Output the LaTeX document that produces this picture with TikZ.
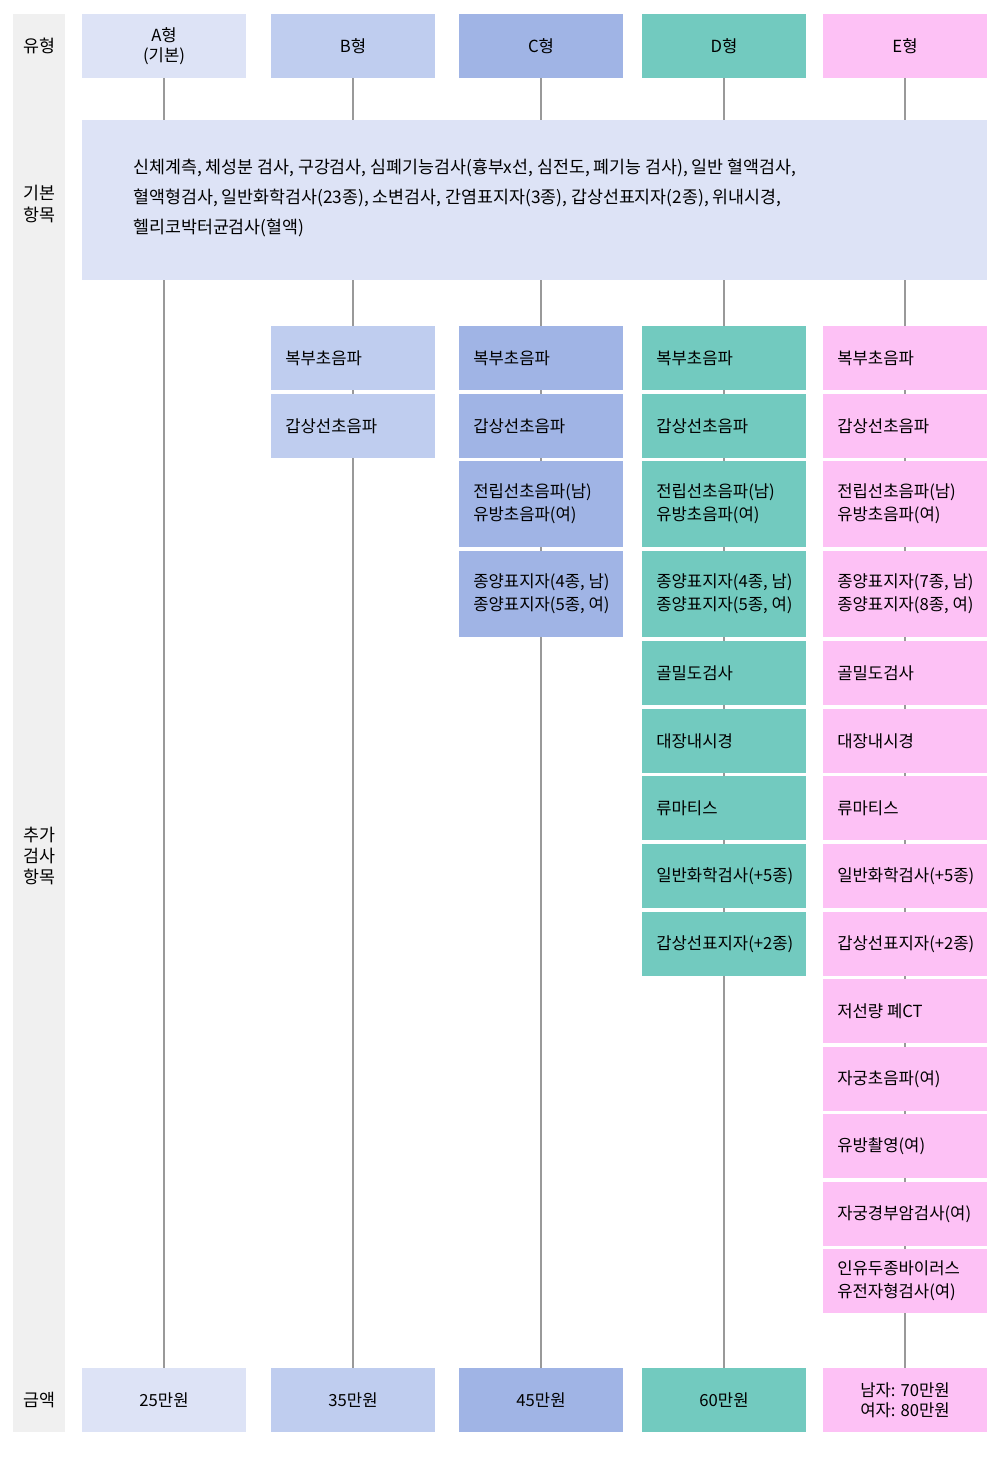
\documentclass[tikz,border=0pt]{standalone}
\usepackage{fontspec}
\setmainfont{Noto Sans CJK KR}
\definecolor{ca}{HTML}{DDE3F6}
\definecolor{cb}{HTML}{BFCDEF}
\definecolor{cc}{HTML}{A0B4E5}
\definecolor{cd}{HTML}{72CABF}
\definecolor{ce}{HTML}{FDC1F5}
\definecolor{band}{HTML}{F0F0F0}
\newcommand{\itm}[5]{\fill[#2] (#1,#3) rectangle (#1+164,#4);
  \node[item] at (#1+14,{(#3+#4)/2}) {#5};}
\begin{document}
\begin{tikzpicture}[x=0.75pt,y=-0.75pt,
  cell/.style={minimum width=123pt,inner sep=0pt,font=\fontsize{12.5}{15}\selectfont,align=center},
  item/.style={inner sep=0pt,font=\fontsize{12.5}{17}\selectfont,align=left,anchor=west},
  lab/.style={font=\fontsize{13}{16}\selectfont,align=center},
  conn/.style={draw=gray!80,line width=0.8pt}]
\useasboundingbox (0,0) rectangle (1000,1457);
\fill[band] (13,14) rectangle (65,1432);
\node[lab] (l1) at (39,46) {유형};
\node[lab] (l2) at (39,204) {기본\\항목};
\node[lab] (l3) at (39,856) {추가\\검사\\항목};
\node[lab] (l4) at (39,1400) {금액};
\foreach \n/\cx in {a/164,b/353,c/541,d/724,e/905}{
  \coordinate (t\n) at (\cx,78);
  \coordinate (p\n) at (\cx,1368);
  \draw[conn] (t\n) -- (p\n);
}
\foreach \n/\x/\c/\t in {a/82/ca/{A형\\(기본)},b/271/cb/B형,c/459/cc/C형,d/642/cd/D형,e/823/ce/E형}{
  \fill[\c] (\x,14) rectangle ++(164,64);
  \node[cell] (h\n) at (\x+82,46) {\t};
}
\fill[ca] (82,120) rectangle (987,280);
\node[item,font=\fontsize{13}{22.5}\selectfont] (basic) at (133,198) {신체계측, 체성분 검사, 구강검사, 심폐기능검사(흉부x선, 심전도, 폐기능 검사), 일반 혈액검사,\\혈액형검사, 일반화학검사(23종), 소변검사, 간염표지자(3종), 갑상선표지자(2종), 위내시경,\\헬리코박터균검사(혈액)};
\itm{271}{cb}{326}{390}{복부초음파}
\itm{271}{cb}{394}{458}{갑상선초음파}
\itm{459}{cc}{326}{390}{복부초음파}
\itm{459}{cc}{394}{458}{갑상선초음파}
\itm{459}{cc}{461}{547}{전립선초음파(남)\\유방초음파(여)}
\itm{459}{cc}{551}{637}{종양표지자(4종, 남)\\종양표지자(5종, 여)}
\itm{642}{cd}{326}{390}{복부초음파}
\itm{642}{cd}{394}{458}{갑상선초음파}
\itm{642}{cd}{461}{547}{전립선초음파(남)\\유방초음파(여)}
\itm{642}{cd}{551}{637}{종양표지자(4종, 남)\\종양표지자(5종, 여)}
\itm{642}{cd}{641}{705}{골밀도검사}
\itm{642}{cd}{709}{773}{대장내시경}
\itm{642}{cd}{776}{840}{류마티스}
\itm{642}{cd}{844}{908}{일반화학검사(+5종)}
\itm{642}{cd}{912}{976}{갑상선표지자(+2종)}
\itm{823}{ce}{326}{390}{복부초음파}
\itm{823}{ce}{394}{458}{갑상선초음파}
\itm{823}{ce}{461}{547}{전립선초음파(남)\\유방초음파(여)}
\itm{823}{ce}{551}{637}{종양표지자(7종, 남)\\종양표지자(8종, 여)}
\itm{823}{ce}{641}{705}{골밀도검사}
\itm{823}{ce}{709}{773}{대장내시경}
\itm{823}{ce}{776}{840}{류마티스}
\itm{823}{ce}{844}{908}{일반화학검사(+5종)}
\itm{823}{ce}{912}{976}{갑상선표지자(+2종)}
\itm{823}{ce}{979}{1043}{저선량 폐CT}
\itm{823}{ce}{1047}{1111}{자궁초음파(여)}
\itm{823}{ce}{1114}{1178}{유방촬영(여)}
\itm{823}{ce}{1182}{1246}{자궁경부암검사(여)}
\itm{823}{ce}{1249}{1313}{인유두종바이러스\\유전자형검사(여)}
\foreach \n/\x/\c/\t in {a/82/ca/25만원,b/271/cb/35만원,c/459/cc/45만원,d/642/cd/60만원,e/823/ce/{남자: 70만원\\여자: 80만원}}{
  \fill[\c] (\x,1368) rectangle ++(164,64);
  \node[cell] (q\n) at (\x+82,1400) {\t};
}
\end{tikzpicture}
\end{document}
